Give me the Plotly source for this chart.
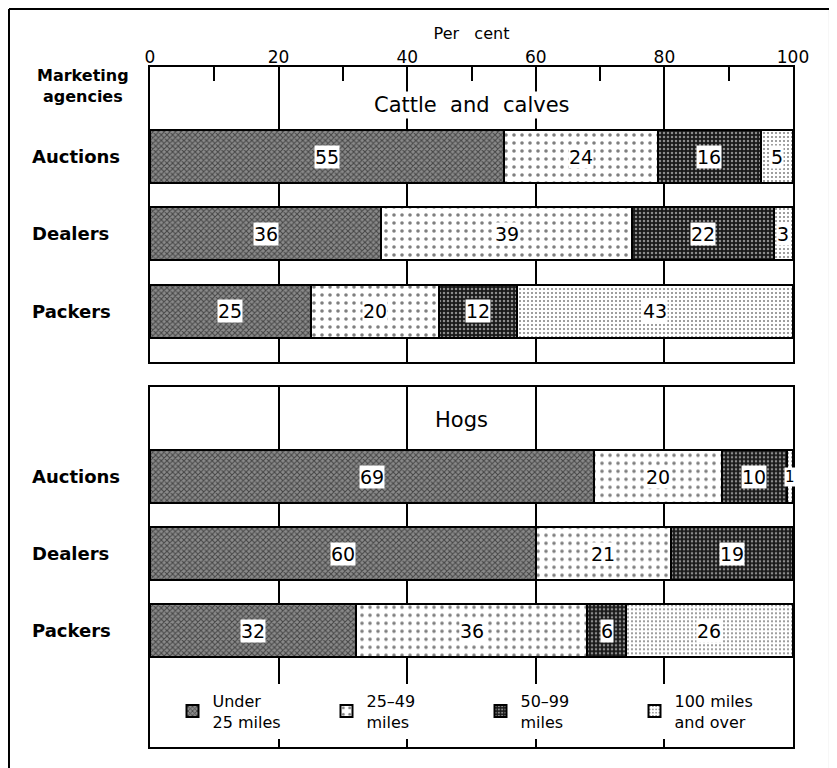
import plotly.graph_objects as go

# ---------------- data ----------------
agencies = ["Auctions", "Dealers", "Packers"]
distance_classes = ["Under 25 miles", "25-49 miles", "50-99 miles", "100 miles and over"]
legend_labels = ["Under<br>25 miles", "25–49<br>miles", "50–99<br>miles", "100 miles<br>and over"]

cattle_under25 = [55, 36, 25]
cattle_25_49 = [24, 39, 20]
cattle_50_99 = [16, 22, 12]
cattle_100plus = [5, 3, 43]

hogs_under25 = [69, 60, 32]
hogs_25_49 = [20, 21, 36]
hogs_50_99 = [10, 19, 6]
hogs_100plus = [1, 0, 26]

x_ticks = [0, 20, 40, 60, 80, 100]

# ---------------- styles ----------------
FONT = "DejaVu Sans"
patterns = [
    dict(shape="x", fgcolor="black", bgcolor="#8a8a8a", size=4, solidity=0.45),
    dict(shape=".", fgcolor="black", bgcolor="white", size=8, solidity=0.16),
    dict(shape=".", fgcolor="white", bgcolor="#1a1a1a", size=4, solidity=0.3),
    dict(shape=".", fgcolor="black", bgcolor="white", size=4, solidity=0.2),
]

panels = [
    ("x", "y", [cattle_under25, cattle_25_49, cattle_50_99, cattle_100plus], True),
    ("x2", "y2", [hogs_under25, hogs_25_49, hogs_50_99, hogs_100plus], False),
]

fig = go.Figure()
annotations = []
for xa, ya, series, show_leg in panels:
    for k, vals in enumerate(series):
        fig.add_trace(go.Bar(
            x=vals, y=agencies, orientation="h",
            name=legend_labels[k], legendgroup=distance_classes[k],
            showlegend=show_leg, xaxis=xa, yaxis=ya, width=0.686,
            marker=dict(color="white", pattern=patterns[k],
                        line=dict(color="black", width=2)),
            hoverinfo="skip",
        ))
    # value labels centred in each segment
    for i, ag in enumerate(agencies):
        start = 0
        for vals in series:
            v = vals[i]
            if v > 0:
                annotations.append(dict(
                    x=start + v / 2, y=ag, xref=xa, yref=ya, text=str(v),
                    xanchor="center", yanchor="middle",
                    showarrow=False, bgcolor="white", borderpad=0,
                    font=dict(family=FONT, size=19 if v > 1 else 15, color="black")))
            start += v
    # agency labels at the left
    for ag in agencies:
        annotations.append(dict(
            x=-0.1866, xref="paper", y=ag, yref=ya, xanchor="left", yanchor="middle",
            text=ag, showarrow=False,
            font=dict(family=FONT, size=18, color="black", weight="bold")))

# panel titles and header
annotations += [
    dict(x=0.5, y=0.944, xref="paper", yref="paper", text="Cattle  and  calves",
         xanchor="center", yanchor="middle",
         showarrow=False, bgcolor="white", font=dict(family=FONT, size=21, color="black")),
    dict(x=0.485, y=0.481, xref="paper", yref="paper", text="Hogs",
         xanchor="center", yanchor="middle",
         showarrow=False, bgcolor="white", font=dict(family=FONT, size=21, color="black")),
    dict(x=-0.104, y=0.972, xref="paper", yref="paper", text="Marketing<br>agencies",
         xanchor="center", yanchor="middle", showarrow=False, align="center",
         font=dict(family=FONT, size=16, color="black", weight="bold")),
]

axis_common = dict(range=[0, 100], showline=True, linecolor="black", linewidth=2,
                   mirror=True, showgrid=True, gridcolor="black", gridwidth=1.5,
                   tickvals=x_ticks, zeroline=False, automargin=False)

# outer frame: left, top and right edges (the bottom edge runs off the page)
fx0, fx1, fy0, fy1 = -0.2193, 1.0575, -0.04, 1.0853
frame_line = dict(color="black", width=2)
frame = [
    dict(type="line", xref="paper", yref="paper", x0=fx0, x1=fx0, y0=fy0, y1=fy1, line=frame_line),
    dict(type="line", xref="paper", yref="paper", x0=fx0, x1=fx1, y0=fy1, y1=fy1, line=frame_line),
    dict(type="line", xref="paper", yref="paper", x0=fx1, x1=fx1, y0=fy0, y1=fy1, line=frame_line),
]

fig.update_layout(
    width=829, height=760,
    margin=dict(l=142, r=44, t=59, b=21),
    paper_bgcolor="white", plot_bgcolor="white",
    barmode="stack", bargap=0,
    font=dict(family=FONT, color="black"),
    xaxis=dict(**axis_common, anchor="y", side="top",
               ticks="inside", ticklen=14, tickcolor="black", tickwidth=1.5,
               tickfont=dict(size=17, color="black"), ticklabelstandoff=-5,
               minor=dict(dtick=10, tick0=0, ticks="inside", ticklen=14,
                          tickcolor="black", tickwidth=1.5, showgrid=False),
               title=dict(text="Per   cent", font=dict(size=16, color="black"), standoff=4)),
    yaxis=dict(domain=[0.566, 1], type="category", categoryorder="array",
               categoryarray=agencies[::-1], range=[-0.66, 3.16], automargin=False,
               showline=True, linecolor="black", linewidth=2, mirror=True,
               showticklabels=False, ticks="", showgrid=False, zeroline=False),
    xaxis2=dict(**axis_common, anchor="y2", showticklabels=False, ticks=""),
    yaxis2=dict(domain=[0, 0.529], type="category", categoryorder="array",
                categoryarray=agencies[::-1], range=[-1.51, 3.16], automargin=False,
                showline=True, linecolor="black", linewidth=2, mirror=True,
                showticklabels=False, ticks="", showgrid=False, zeroline=False),
    legend=dict(orientation="h", x=0.035, y=0.093, xanchor="left", yanchor="top",
                bgcolor="white", font=dict(size=16, color="black", family=FONT),
                entrywidth=109, entrywidthmode="pixels", traceorder="normal",
                itemclick=False, itemdoubleclick=False),
    annotations=annotations,
    shapes=frame,
)

fig.write_html("out.html")
